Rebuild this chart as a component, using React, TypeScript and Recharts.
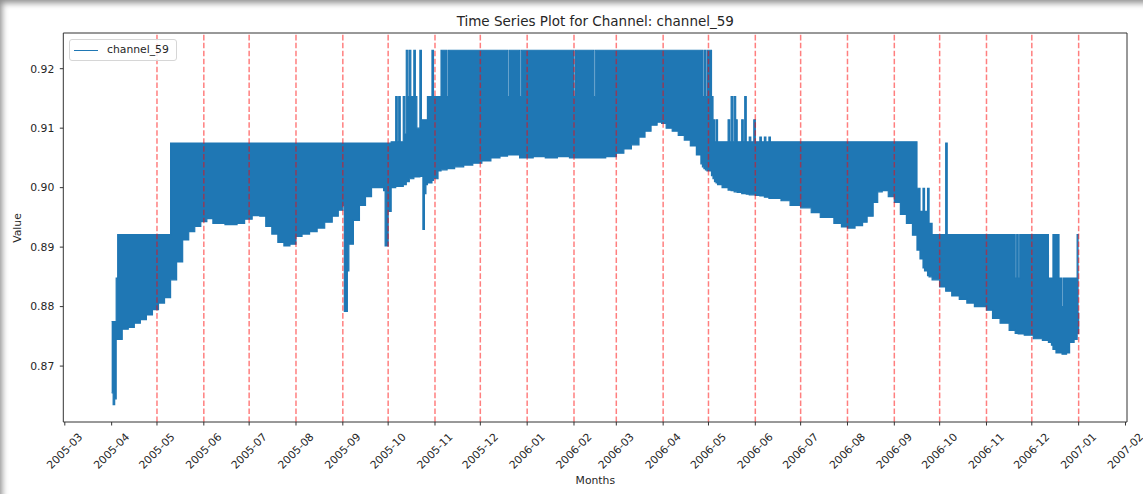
import React from 'react';
import { ComposedChart, Area, XAxis, YAxis, ReferenceLine } from 'recharts';

type Reading = [string, number, number]; // [date, lower envelope, upper envelope]

const spring2005: Reading[] = [
  ['2005-04-01', 0.8655, 0.8775],
  ['2005-04-02', 0.8635, 0.8775],
  ['2005-04-03', 0.8645, 0.8775],
  ['2005-04-04', 0.8745, 0.8848],
  ['2005-04-05', 0.8745, 0.8921],
  ['2005-04-08', 0.8762, 0.8921],
  ['2005-04-12', 0.8765, 0.8921],
  ['2005-04-16', 0.8772, 0.8921],
  ['2005-04-20', 0.8778, 0.8921],
  ['2005-04-24', 0.8786, 0.8921],
  ['2005-04-28', 0.8795, 0.8921],
  ['2005-05-02', 0.8806, 0.8921],
  ['2005-05-06', 0.8815, 0.8921],
  ['2005-05-10', 0.8845, 0.9075],
  ['2005-05-14', 0.8875, 0.9075],
  ['2005-05-18', 0.8912, 0.9075],
  ['2005-05-22', 0.8926, 0.9075],
  ['2005-05-26', 0.8935, 0.9075],
  ['2005-05-30', 0.8943, 0.9075],
];

const summer2005: Reading[] = [
  ['2005-06-03', 0.8948, 0.9075],
  ['2005-06-07', 0.894, 0.9075],
  ['2005-06-15', 0.8938, 0.9075],
  ['2005-06-23', 0.894, 0.9075],
  ['2005-06-28', 0.8947, 0.9075],
  ['2005-07-03', 0.8953, 0.9075],
  ['2005-07-08', 0.8952, 0.9075],
  ['2005-07-12', 0.8935, 0.9075],
  ['2005-07-16', 0.8922, 0.9075],
  ['2005-07-20', 0.8908, 0.9075],
  ['2005-07-24', 0.8902, 0.9075],
  ['2005-07-28', 0.8905, 0.9075],
  ['2005-08-01', 0.8918, 0.9075],
  ['2005-08-05', 0.8922, 0.9075],
  ['2005-08-10', 0.8926, 0.9075],
  ['2005-08-15', 0.8932, 0.9075],
  ['2005-08-20', 0.8942, 0.9075],
  ['2005-08-25', 0.8952, 0.9075],
  ['2005-08-29', 0.8962, 0.9075],
];

const autumn2005: Reading[] = [
  ['2005-09-01', 0.897, 0.9075],
  ['2005-09-02', 0.8792, 0.9075],
  ['2005-09-04', 0.886, 0.9075],
  ['2005-09-05', 0.8905, 0.9075],
  ['2005-09-08', 0.8945, 0.9075],
  ['2005-09-12', 0.897, 0.9075],
  ['2005-09-16', 0.8985, 0.9075],
  ['2005-09-20', 0.9, 0.9075],
  ['2005-09-24', 0.9, 0.9075],
  ['2005-09-28', 0.8995, 0.9075],
  ['2005-09-29', 0.8902, 0.9075],
  ['2005-10-01', 0.896, 0.9075],
  ['2005-10-03', 0.9, 0.9077],
  ['2005-10-06', 0.9002, 0.9153],
  ['2005-10-07', 0.9002, 0.9077],
  ['2005-10-08', 0.9002, 0.9153],
  ['2005-10-09', 0.9002, 0.9077],
  ['2005-10-11', 0.9005, 0.9153],
  ['2005-10-12', 0.9005, 0.909],
  ['2005-10-13', 0.901, 0.9231],
  ['2005-10-14', 0.901, 0.9153],
  ['2005-10-15', 0.9015, 0.9231],
  ['2005-10-16', 0.9015, 0.9153],
  ['2005-10-18', 0.9018, 0.9231],
  ['2005-10-19', 0.9018, 0.9153],
  ['2005-10-20', 0.9018, 0.91],
  ['2005-10-22', 0.9019, 0.9231],
  ['2005-10-23', 0.9019, 0.9114],
  ['2005-10-24', 0.893, 0.9114],
  ['2005-10-25', 0.899, 0.9114],
  ['2005-10-26', 0.9005, 0.9114],
  ['2005-10-27', 0.9008, 0.9153],
  ['2005-10-30', 0.9012, 0.9231],
  ['2005-10-31', 0.9015, 0.9153],
  ['2005-11-03', 0.9028, 0.9153],
  ['2005-11-05', 0.903, 0.9231],
  ['2005-11-09', 0.9032, 0.9153],
  ['2005-11-10', 0.9032, 0.9231],
  ['2005-11-14', 0.9035, 0.9231],
  ['2005-11-20', 0.9038, 0.9231],
  ['2005-11-26', 0.9041, 0.9231],
];

const winter2006: Reading[] = [
  ['2005-12-02', 0.9045, 0.9231],
  ['2005-12-08', 0.905, 0.9231],
  ['2005-12-14', 0.9053, 0.9231],
  ['2005-12-19', 0.9055, 0.9153],
  ['2005-12-20', 0.9055, 0.9231],
  ['2005-12-27', 0.905, 0.9153],
  ['2005-12-28', 0.905, 0.9231],
  ['2006-01-05', 0.9052, 0.9231],
  ['2006-01-13', 0.905, 0.9231],
  ['2006-01-21', 0.9052, 0.9231],
  ['2006-01-29', 0.905, 0.9231],
  ['2006-02-01', 0.905, 0.9153],
  ['2006-02-02', 0.905, 0.9231],
  ['2006-02-08', 0.905, 0.9231],
  ['2006-02-14', 0.905, 0.9153],
  ['2006-02-15', 0.905, 0.9231],
  ['2006-02-22', 0.9052, 0.9231],
];

const spring2006: Reading[] = [
  ['2006-03-01', 0.9058, 0.9231],
  ['2006-03-06', 0.9065, 0.9231],
  ['2006-03-11', 0.9072, 0.9231],
  ['2006-03-16', 0.9085, 0.9231],
  ['2006-03-20', 0.9095, 0.9231],
  ['2006-03-24', 0.9105, 0.9231],
  ['2006-03-28', 0.911, 0.9231],
  ['2006-03-31', 0.9108, 0.9231],
  ['2006-04-03', 0.91, 0.9231],
  ['2006-04-07', 0.9095, 0.9231],
  ['2006-04-11', 0.9088, 0.9231],
  ['2006-04-15', 0.908, 0.9231],
  ['2006-04-19', 0.907, 0.9231],
  ['2006-04-23', 0.9055, 0.9231],
  ['2006-04-26', 0.904, 0.9231],
  ['2006-04-27', 0.9035, 0.9153],
  ['2006-04-28', 0.9032, 0.9231],
  ['2006-04-29', 0.903, 0.9153],
  ['2006-04-30', 0.9028, 0.9231],
  ['2006-05-03', 0.902, 0.9153],
  ['2006-05-04', 0.9015, 0.9114],
  ['2006-05-05', 0.901, 0.9077],
  ['2006-05-06', 0.9008, 0.9114],
  ['2006-05-07', 0.9005, 0.9077],
  ['2006-05-10', 0.9, 0.9077],
  ['2006-05-14', 0.8996, 0.9114],
  ['2006-05-15', 0.8996, 0.9077],
  ['2006-05-16', 0.8995, 0.9153],
  ['2006-05-17', 0.8995, 0.9077],
  ['2006-05-18', 0.8993, 0.9153],
  ['2006-05-19', 0.8993, 0.9114],
  ['2006-05-20', 0.8992, 0.9077],
  ['2006-05-23', 0.899, 0.9114],
  ['2006-05-24', 0.899, 0.9077],
  ['2006-05-25', 0.899, 0.9153],
  ['2006-05-26', 0.8989, 0.9077],
  ['2006-05-28', 0.8988, 0.9085],
  ['2006-05-29', 0.8988, 0.9077],
  ['2006-05-31', 0.8988, 0.9114],
];

const summer2006: Reading[] = [
  ['2006-06-01', 0.8987, 0.9077],
  ['2006-06-04', 0.8986, 0.9085],
  ['2006-06-05', 0.8986, 0.9077],
  ['2006-06-07', 0.8984, 0.9085],
  ['2006-06-08', 0.8984, 0.9077],
  ['2006-06-10', 0.8982, 0.9085],
  ['2006-06-11', 0.8982, 0.9077],
  ['2006-06-18', 0.8978, 0.9077],
  ['2006-06-24', 0.897, 0.9077],
  ['2006-07-01', 0.8966, 0.9077],
  ['2006-07-08', 0.8958, 0.9077],
  ['2006-07-14', 0.895, 0.9077],
  ['2006-07-23', 0.894, 0.9077],
  ['2006-07-28', 0.8934, 0.9077],
  ['2006-08-01', 0.8932, 0.9077],
  ['2006-08-06', 0.8936, 0.9077],
  ['2006-08-11', 0.8942, 0.9077],
  ['2006-08-14', 0.8952, 0.9077],
  ['2006-08-18', 0.8975, 0.9077],
  ['2006-08-21', 0.8993, 0.9077],
  ['2006-08-24', 0.8995, 0.9077],
  ['2006-08-28', 0.8985, 0.9077],
];

const autumn2006: Reading[] = [
  ['2006-09-01', 0.8975, 0.9077],
  ['2006-09-05', 0.8955, 0.9077],
  ['2006-09-09', 0.894, 0.9077],
  ['2006-09-13', 0.892, 0.9077],
  ['2006-09-16', 0.8895, 0.8999],
  ['2006-09-18', 0.888, 0.896],
  ['2006-09-20', 0.8865, 0.8999],
  ['2006-09-21', 0.886, 0.896],
  ['2006-09-23', 0.8852, 0.8999],
  ['2006-09-24', 0.885, 0.894],
  ['2006-09-26', 0.8845, 0.8921],
  ['2006-10-01', 0.8833, 0.8921],
  ['2006-10-05', 0.8826, 0.9075],
  ['2006-10-06', 0.8826, 0.8921],
  ['2006-10-09', 0.8818, 0.8921],
  ['2006-10-14', 0.8812, 0.8921],
  ['2006-10-19', 0.8806, 0.8921],
  ['2006-10-24', 0.88, 0.8921],
  ['2006-11-01', 0.8794, 0.8921],
  ['2006-11-05', 0.878, 0.8921],
  ['2006-11-10', 0.8772, 0.8921],
  ['2006-11-16', 0.876, 0.8921],
  ['2006-11-20', 0.8755, 0.8848],
  ['2006-11-21', 0.8755, 0.8921],
  ['2006-11-22', 0.8754, 0.8848],
  ['2006-11-23', 0.8754, 0.8921],
  ['2006-11-26', 0.8752, 0.8921],
  ['2006-12-02', 0.8746, 0.8921],
  ['2006-12-08', 0.8743, 0.8921],
  ['2006-12-12', 0.874, 0.8848],
  ['2006-12-14', 0.8735, 0.8848],
  ['2006-12-15', 0.8728, 0.8921],
  ['2006-12-17', 0.8722, 0.8921],
  ['2006-12-19', 0.8722, 0.8848],
  ['2006-12-21', 0.872, 0.88],
  ['2006-12-22', 0.872, 0.8848],
  ['2006-12-24', 0.8722, 0.8848],
  ['2006-12-26', 0.874, 0.8848],
  ['2006-12-29', 0.8745, 0.8848],
  ['2006-12-31', 0.8755, 0.8921],
  ['2007-01-01', 0.879, 0.8921],
];

const monthLabels = [
  '2005-03', '2005-04', '2005-05', '2005-06', '2005-07', '2005-08', '2005-09', '2005-10',
  '2005-11', '2005-12', '2006-01', '2006-02', '2006-03', '2006-04', '2006-05', '2006-06',
  '2006-07', '2006-08', '2006-09', '2006-10', '2006-11', '2006-12', '2007-01', '2007-02',
];
const markerMonths = [
  '2005-05', '2005-06', '2005-07', '2005-08', '2005-09', '2005-10', '2005-11', '2005-12',
  '2006-01', '2006-02', '2006-03', '2006-04', '2006-05', '2006-06', '2006-07', '2006-08',
  '2006-09', '2006-10', '2006-11', '2006-12', '2007-01',
];
const yTicks = [0.87, 0.88, 0.89, 0.9, 0.91, 0.92];
const Y_DOMAIN: [number, number] = [0.8606, 0.926];

const toTs = (s: string) => Date.parse(s + 'T00:00:00Z');

const readings = [...spring2005, ...summer2005, ...autumn2005, ...winter2006, ...spring2006, ...summer2006, ...autumn2006];
const data = readings.map(([d, lo, hi]) => ({ t: toTs(d), range: [lo, hi] }));

const first = data[0].t;
const last = data[data.length - 1].t;
const pad = (last - first) * 0.05;
const X_DOMAIN: [number, number] = [first - pad, last + pad];
const xTicks = monthLabels.map((m) => toTs(m + '-01'));
const markers = markerMonths.map((m) => toTs(m + '-01'));

const FONT = '"DejaVu Sans", sans-serif';
const TEXT = '#262626';
const BLUE = '#1f77b4';

const fmtMonth = (v: number) => {
  const d = new Date(v);
  return `${d.getUTCFullYear()}-${String(d.getUTCMonth() + 1).padStart(2, '0')}`;
};

const XTick = (props: any) => {
  const { x, y, payload } = props;
  return (
    <text
      x={0}
      y={0}
      transform={`translate(${x},${y + 25.6}) rotate(-45)`}
      textAnchor="middle"
      dominantBaseline="central"
      fontSize={10.8}
      fontFamily={FONT}
      fill={TEXT}
    >
      {fmtMonth(payload.value)}
    </text>
  );
};

export default function App() {
  return (
    <div
      style={{
        position: 'absolute',
        left: 0,
        top: 0,
        width: 1143,
        height: 494,
        background: '#fff',
        boxShadow: 'inset 5px 6px 6px -3px rgba(0,0,0,0.45)',
        fontFamily: FONT,
        overflow: 'hidden',
      }}
    >
      <ComposedChart
        width={1143}
        height={494}
        data={data}
        margin={{ top: 33, right: 16, bottom: 0, left: 0 }}
      >
        <XAxis
          dataKey="t"
          type="number"
          domain={X_DOMAIN}
          ticks={xTicks}
          interval={0}
          allowDataOverflow
          height={72}
          tickSize={3.5}
          tickMargin={0}
          tick={<XTick />}
          axisLine={{ stroke: '#333', strokeWidth: 1 }}
          tickLine={{ stroke: '#333', strokeWidth: 1 }}
        />
        <YAxis
          type="number"
          domain={Y_DOMAIN}
          ticks={yTicks}
          allowDataOverflow
          width={63.3}
          tickSize={3.5}
          tickMargin={5.5}
          tickFormatter={(v: number) => v.toFixed(2)}
          tick={{ fontSize: 10.8, fontFamily: FONT, fill: TEXT }}
          axisLine={{ stroke: '#333', strokeWidth: 1 }}
          tickLine={{ stroke: '#333', strokeWidth: 1 }}
        />
        <Area
          dataKey="range"
          type="stepAfter"
          stroke={BLUE}
          strokeWidth={1.2}
          fill={BLUE}
          fillOpacity={1}
          dot={false}
          activeDot={false}
          isAnimationActive={false}
        />
        {markers.map((m) => (
          <ReferenceLine
            key={m}
            x={m}
            stroke="red"
            strokeOpacity={0.5}
            strokeWidth={1.5}
            strokeDasharray="5.55 2.4"
          />
        ))}
        <ReferenceLine y={Y_DOMAIN[1]} stroke="#333" strokeWidth={1} />
        <ReferenceLine x={X_DOMAIN[1]} stroke="#333" strokeWidth={1} />
      </ComposedChart>

      <div
        style={{
          position: 'absolute',
          left: 395.3,
          width: 400,
          top: 13,
          textAlign: 'center',
          fontSize: 13.5,
          lineHeight: '17px',
          color: TEXT,
        }}
      >
        Time Series Plot for Channel: channel_59
      </div>

      <div
        style={{
          position: 'absolute',
          left: 495.3,
          width: 200,
          top: 474,
          textAlign: 'center',
          fontSize: 10.8,
          lineHeight: '14px',
          color: TEXT,
        }}
      >
        Months
      </div>

      <div
        style={{
          position: 'absolute',
          left: -32,
          width: 100,
          top: 220.5,
          textAlign: 'center',
          fontSize: 10.8,
          lineHeight: '14px',
          color: TEXT,
          transform: 'rotate(-90deg)',
        }}
      >
        Value
      </div>

      <div
        style={{
          position: 'absolute',
          left: 69,
          top: 39,
          width: 108,
          height: 22,
          boxSizing: 'border-box',
          border: '1px solid #d6d6d6',
          borderRadius: 3,
          background: 'rgba(255,255,255,0.8)',
        }}
      >
        <div
          style={{
            position: 'absolute',
            left: 3.5,
            top: 9.5,
            width: 24,
            height: 1.5,
            background: BLUE,
          }}
        />
        <div
          style={{
            position: 'absolute',
            left: 37,
            top: 3,
            fontSize: 10.8,
            lineHeight: '14px',
            color: TEXT,
            whiteSpace: 'nowrap',
          }}
        >
          channel_59
        </div>
      </div>
    </div>
  );
}
